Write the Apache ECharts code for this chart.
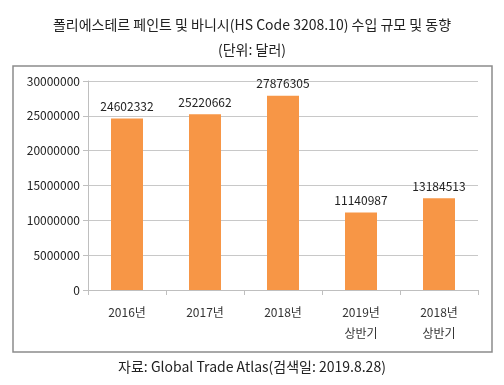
<!DOCTYPE html>
<html><head><meta charset="utf-8">
<script src="https://cdn.jsdelivr.net/npm/echarts@6/dist/echarts.min.js"></script>
<style>html,body{margin:0;padding:0;background:#fff}#c{width:504px;height:385px}</style>
</head><body><div id="c"></div>
<script>
var categories = ['2016년', '2017년', '2018년', '2019년\n상반기', '2018년\n상반기'];
var values = [24602332, 25220662, 27876305, 11140987, 13184513];
var yTicks = [0, 5000000, 10000000, 15000000, 20000000, 25000000, 30000000];
var titleText = '폴리에스테르 페인트 및 바니시(HS Code 3208.10) 수입 규모 및 동향';
var unitText = '(단위: 달러)';
var sourceText = '자료: Global Trade Atlas(검색일: 2019.8.28)';
var F = '"Noto Sans CJK KR", "Noto Sans", sans-serif';
var chart = echarts.init(document.getElementById('c'));
chart.setOption({
  animation: false,
  title: [
    {text: titleText, left: 'center', top: 13, textStyle: {fontFamily: F, fontSize: 14, fontWeight: 'normal', color: '#222'}},
    {text: unitText, left: 'center', top: 38, textStyle: {fontFamily: F, fontSize: 14, fontWeight: 'normal', color: '#222'}},
    {text: sourceText, left: 'center', top: 355, textStyle: {fontFamily: F, fontSize: 14, fontWeight: 'normal', color: '#222'}}
  ],
  graphic: [{type: 'rect', shape: {x: 13, y: 66, width: 479, height: 286}, style: {fill: 'none', stroke: '#8c8c8c', lineWidth: 1.5}, silent: true}],
  grid: {left: 88, right: 26, top: 81, bottom: 95},
  xAxis: {
    type: 'category', data: categories,
    axisLine: {lineStyle: {color: '#bfbfbf'}},
    axisTick: {show: true, alignWithLabel: false, length: 5, lineStyle: {color: '#bfbfbf'}},
    axisLabel: {fontFamily: F, fontSize: 12, color: '#333', margin: 12, lineHeight: 21}
  },
  yAxis: {
    type: 'value', min: yTicks[0], max: yTicks[yTicks.length - 1], interval: yTicks[1] - yTicks[0],
    axisLine: {show: true, lineStyle: {color: '#bfbfbf'}},
    axisTick: {show: true, length: 5, lineStyle: {color: '#bfbfbf'}},
    splitLine: {lineStyle: {color: '#c8c8c8'}},
    axisLabel: {fontFamily: F, fontSize: 12, color: '#222', margin: 8, formatter: function (v) { return String(v); }}
  },
  series: [{
    type: 'bar', data: values, barWidth: 32,
    itemStyle: {color: '#F79646'},
    label: {show: true, position: 'top', distance: 6, fontFamily: F, fontSize: 12, color: '#222'}
  }]
});
</script></body></html>
